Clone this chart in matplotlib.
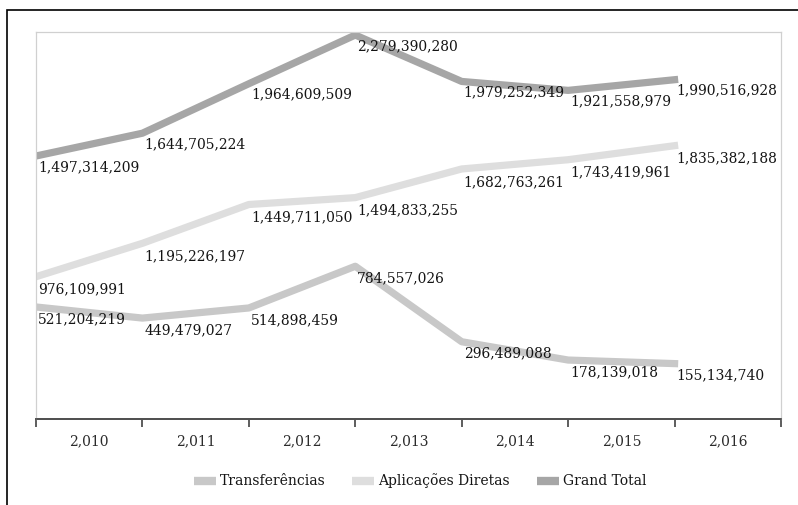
import matplotlib.pyplot as plt
from matplotlib.lines import Line2D
from matplotlib.patches import Rectangle

plt.rcParams['font.family'] = ['DejaVu Serif']

anos = ['2,010', '2,011', '2,012', '2,013', '2,014', '2,015', '2,016']
transferencias = [521204219, 449479027, 514898459, 784557026, 296489088, 178139018, 155134740]
aplicacoes = [976109991, 1195226197, 1449711050, 1494833255, 1682763261, 1743419961, 1835382188]
grand_total = [1497314209, 1644705224, 1964609509, 2279390280, 1979252349, 1921558979, 1990516928]

cor_trans = '#c8c8c8'
cor_apl = '#dedede'
cor_total = '#a6a6a6'

W, H = 798, 505
fig = plt.figure(figsize=(W / 100, H / 100), dpi=100)

# moldura externa do grafico
fig.patches.append(Rectangle((7 / W, -0.1), 1.2, 1 - 10 / H + 0.1, transform=fig.transFigure,
                             fill=False, edgecolor='black', linewidth=1.2))

ax = fig.add_axes([36 / W, 1 - 419 / H, (781 - 36) / W, (419 - 32) / H])
ax2 = ax.twinx()  # eixo secundario (oculto) das Aplicacoes Diretas

x = list(range(len(anos)))

ax.plot(x, transferencias, color=cor_trans, lw=5.2, zorder=2)
ax2.plot(x, aplicacoes, color=cor_apl, lw=5.2, zorder=2)
ax.plot(x, grand_total, color=cor_total, lw=5.2, zorder=3)

ax.set_ylim(-203e6, 2299e6)
ax2.set_ylim(43e6, 2581e6)
ax.set_xlim(0, len(anos))


def rotular(eixo, valores, dy):
    for xi, v in zip(x, valores):
        eixo.annotate(f'{v:,}', (xi, v), xytext=(2, dy), textcoords='offset pixels',
                      ha='left', va='center', fontsize=10, color='#141414', zorder=5)


rotular(ax, transferencias, -12)
rotular(ax2, aplicacoes, -13)
rotular(ax, grand_total, -11)

for a in (ax, ax2):
    a.set_yticks([])
    for lado in ('top', 'left', 'right'):
        a.spines[lado].set_color('#d0d0d0')
        a.spines[lado].set_linewidth(0.8)
    a.spines['bottom'].set_color('#505050')
    a.spines['bottom'].set_linewidth(1.3)

ax.set_xticks(range(len(anos) + 1))
ax.set_xticklabels([])
ax.tick_params(axis='x', which='major', length=6, width=1.3, color='#505050', direction='out')
ax.set_xticks([i + 0.5 for i in x], minor=True)
ax.set_xticklabels(anos, minor=True, fontsize=10, color='#2b2b2b')
ax.tick_params(axis='x', which='minor', length=0, pad=11)

handles = [Line2D([], [], color=c, lw=6, solid_capstyle='butt')
           for c in (cor_trans, cor_apl, cor_total)]
fig.legend(handles, ['Transferências', 'Aplicac\u0327o\u0303es Diretas', 'Grand Total'],
           loc='center', bbox_to_anchor=(420 / W, 1 - 481 / H), ncol=3, frameon=False,
           fontsize=10, handlelength=1.6, handletextpad=0.3, columnspacing=1.9,
           labelcolor='#141414')

fig.savefig('out.png', dpi=100)
